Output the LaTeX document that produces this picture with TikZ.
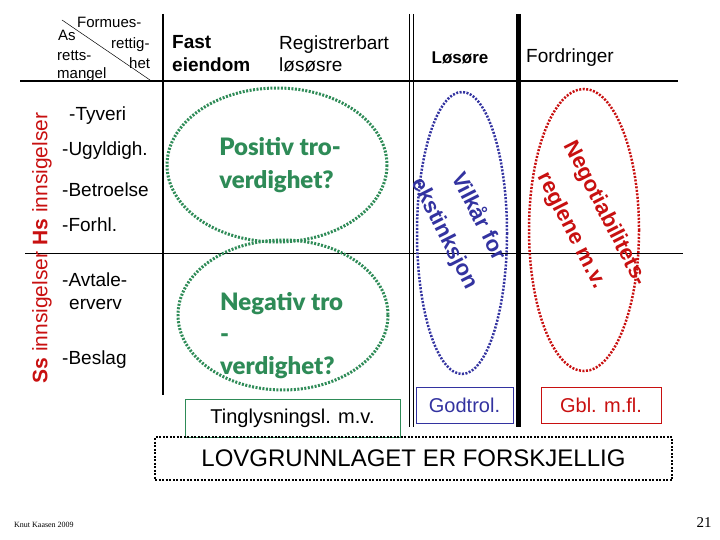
\documentclass[tikz,border=0pt]{standalone}
\usepackage{fontspec}
\setmainfont{Liberation Sans}
\newfontfamily\lato{Lato Black}
\newfontfamily\serifx{Liberation Serif}
\definecolor{dgreen}{RGB}{46,139,87}
\definecolor{dblue}{RGB}{51,51,160}
\definecolor{dred}{RGB}{200,16,16}
\begin{document}
\begin{tikzpicture}[x=1pt,y=-1pt,
  lbl/.style={anchor=west,inner sep=0,font=\fontsize{19}{19}\selectfont},
  hdr/.style={anchor=west,inner sep=0,font=\fontsize{19}{22}\selectfont,align=left},
  ell/.style={draw,line width=3pt,dash pattern=on 2pt off 1.5pt},
  lbox/.style={draw,inner sep=0,font=\fontsize{20}{20}\selectfont}]
\useasboundingbox (0,0) rectangle (720,540);
% grid lines
\draw[line width=1.8pt] (20,81) -- (678,81);
\draw[line width=0.7pt] (25,253) -- (683,253);
\draw[line width=2pt] (163,14) -- (163,395);
\draw[line width=0.8pt] (409,14) -- (409,427) (413,14) -- (413,427);
\draw[line width=5pt] (518,14) -- (518,427);
\draw[line width=0.5pt] (62,20) -- (150,80);
% corner labels
\node[hdr,font=\fontsize{15}{15}\selectfont] (c1) at (77,22) {Formues-};
\node[hdr,font=\fontsize{15}{15}\selectfont] (c2) at (58,35) {As};
\node[hdr,font=\fontsize{15}{15}\selectfont] (c3) at (111,45) {rettig-};
\node[hdr,font=\fontsize{15}{15}\selectfont] (c4) at (57,56) {retts-};
\node[hdr,font=\fontsize{15}{15}\selectfont] (c5) at (129,63) {het};
\node[hdr,font=\fontsize{15}{15}\selectfont] (c6) at (57,75) {mangel};
% headers
\node[hdr,font=\bfseries\fontsize{19}{23}\selectfont] (h1) at (172,54) {Fast\\eiendom};
\node[hdr] (h2) at (279,54) {Registrerbart\\løsøsre};
\node[inner sep=0,font=\bfseries\fontsize{17}{17}\selectfont] (h3) at (460,58) {Løsøre};
\node[inner sep=0,font=\fontsize{19}{19}\selectfont] (h4) at (570,58) {Fordringer};
% rotated side label
\node[rotate=90,inner sep=0,text=dred,font=\fontsize{21}{21}\selectfont] (side) at (42,248)
  {\textbf{Ss} innsigelser \textbf{Hs} innsigelser};
% list
\node[lbl] (l1) at (69,116) {-Tyveri};
\node[lbl] (l2) at (62,151) {-Ugyldigh.};
\node[lbl] (l3) at (62,190) {-Betroelse};
\node[lbl] (l4) at (62,225) {-Forhl.};
\node[lbl] (l5) at (62,280) {-Avtale-};
\node[lbl] (l6) at (69,304) {erverv};
\node[lbl] (l7) at (62,360) {-Beslag};
% ellipses
\draw[ell,dgreen] (277,165) ellipse (110 and 77);
\draw[ell,dgreen] (283,315) ellipse (105 and 75);
\node[text=dgreen,font=\lato\fontsize{24}{33}\selectfont,align=left,inner sep=0] (p) at (280,165) {Positiv tro-\\verdighet?};
\node[text=dgreen,font=\lato\fontsize{24}{32}\selectfont,align=left,inner sep=0,anchor=north west] (n) at (220,292) {Negativ tro\\-\\verdighet?};
\draw[ell,dblue,line width=2.5pt] (462,233) ellipse (45 and 141);
\draw[ell,dred,line width=2.5pt] (584,230) ellipse (55 and 141);
\node[text=dblue,rotate=-63,font=\bfseries\fontsize{22}{38}\selectfont,align=center,inner sep=0] (v) at (462,225) {Vilkår for\\ekstinksjon};
\node[text=dred,rotate=-63,font=\bfseries\fontsize{22}{38}\selectfont,align=center,inner sep=0] (g) at (588,222) {Negotiabilitets-\\reglene m.v.};
% boxes
\node[lbox,draw=dgreen,minimum width=215,minimum height=38] (b1) at (292.5,418) {Tinglysningsl. m.v.};
\node[lbox,draw=dblue,text=dblue,minimum width=97,minimum height=36] (b2) at (464.5,405) {Godtrol.};
\node[lbox,draw=dred,text=dred,minimum width=120,minimum height=36] (b3) at (601,405) {Gbl. m.fl.};
\node[draw,line width=2.5pt,dash pattern=on 2pt off 1.5pt,minimum width=517,minimum height=43,inner sep=0,font=\fontsize{24}{24}\selectfont] (law) at (413.5,458.5) {LOVGRUNNLAGET ER FORSKJELLIG};
\node[anchor=west,inner sep=0,font=\serifx\fontsize{8}{8}\selectfont] (k) at (14,525) {Knut Kaasen 2009};
\node[inner sep=0,font=\serifx\fontsize{15}{15}\selectfont] (pg) at (704,523) {21};
\end{tikzpicture}
\end{document}
